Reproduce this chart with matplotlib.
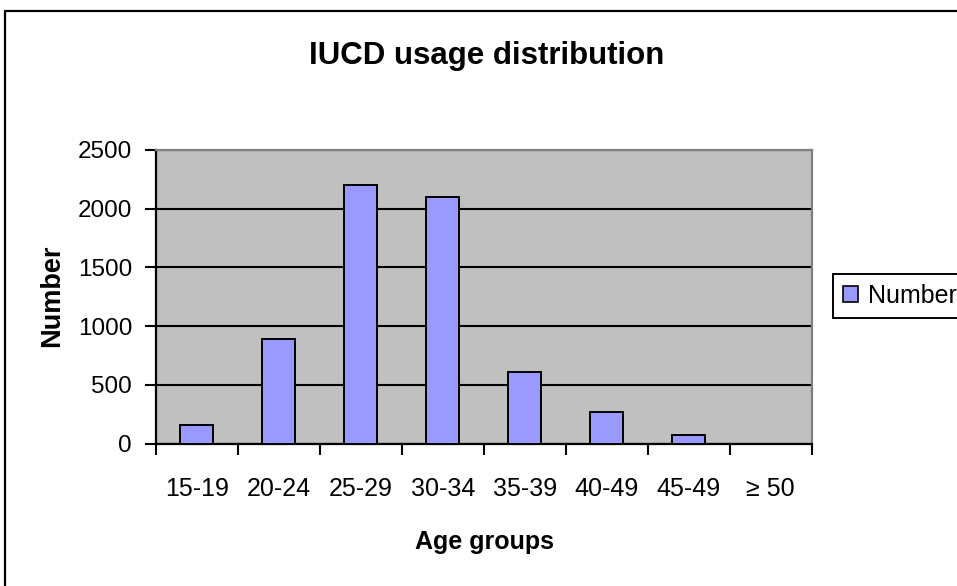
import matplotlib
matplotlib.use("Agg")
import matplotlib.pyplot as plt
from matplotlib.patches import Rectangle, Patch

categories = ["15-19", "20-24", "25-29", "30-34", "35-39", "40-49", "45-49", "≥ 50"]
values = [160, 890, 2200, 2100, 610, 270, 75, 0]
y_ticks = [0, 500, 1000, 1500, 2000, 2500]
series_name = "Number"

plt.rcParams['font.family'] = ['Liberation Sans', 'DejaVu Sans']

W, H = 957, 586
fig = plt.figure(figsize=(W / 100, H / 100), dpi=100)
fig.patch.set_facecolor("white")

# outer chart border (cropped at right and bottom)
fig.patches.append(Rectangle((5 / W, -0.1), 1.2, 1 - 11 / H + 0.1, transform=fig.transFigure,
                             fill=False, edgecolor="black", linewidth=1.6, zorder=0))

left, right, top, bottom = 155.7, 811.7, 150, 443.5
ax = fig.add_axes([left / W, 1 - bottom / H, (right - left) / W, (bottom - top) / H])
ax.set_facecolor("#C0C0C0")

x = list(range(len(categories)))
ax.bar(x, values, width=0.4, color="#9999FF", edgecolor="black", linewidth=1.4, zorder=3,
       label=series_name)

ax.set_xlim(-0.5, len(categories) - 0.5)
ax.set_ylim(0, 2500)
ax.set_yticks(y_ticks)
ax.set_yticklabels([str(v) for v in y_ticks], fontsize=17.5)
ax.yaxis.grid(True, color="black", linewidth=1.5, zorder=1)
ax.set_axisbelow(True)

ax.set_xticks([i - 0.5 for i in range(len(categories) + 1)])
ax.set_xticklabels([])
ax.set_xticks(x, minor=True)
ax.set_xticklabels(categories, minor=True, fontsize=18)
ax.tick_params(axis="x", which="major", direction="out", length=8, width=1.5, color="black")
ax.tick_params(axis="x", which="minor", length=0, pad=24)
ax.tick_params(axis="y", direction="out", length=8, width=1.5, color="black", pad=9)

for s in ["left", "bottom"]:
    ax.spines[s].set_color("black")
    ax.spines[s].set_linewidth(1.6)
for s in ["top", "right"]:
    ax.spines[s].set_color("#808080")
    ax.spines[s].set_linewidth(1.6)

fig.text(487 / W, 1 - 56 / H, "IUCD usage distribution", ha="center", va="center",
         fontsize=22.5, fontweight="bold")
fig.text(484 / W, 1 - 542 / H, "Age groups", ha="center", va="center",
         fontsize=18, fontweight="bold")
fig.text(52 / W, 1 - 296 / H, "Number", ha="center", va="center", rotation=90,
         fontsize=19.5, fontweight="bold")

handle = Patch(facecolor="#9999FF", edgecolor="black", linewidth=1.2)
leg = fig.legend([handle], [series_name], loc="upper left",
                 bbox_to_anchor=(833 / W, 1 - 274 / H), fontsize=18,
                 frameon=True, fancybox=False, edgecolor="black", framealpha=1,
                 handlelength=0.6, handleheight=0.6, handletextpad=0.4,
                 borderpad=0.4, borderaxespad=0)
leg.get_frame().set_linewidth(1.4)

fig.savefig("out.png", dpi=100)
